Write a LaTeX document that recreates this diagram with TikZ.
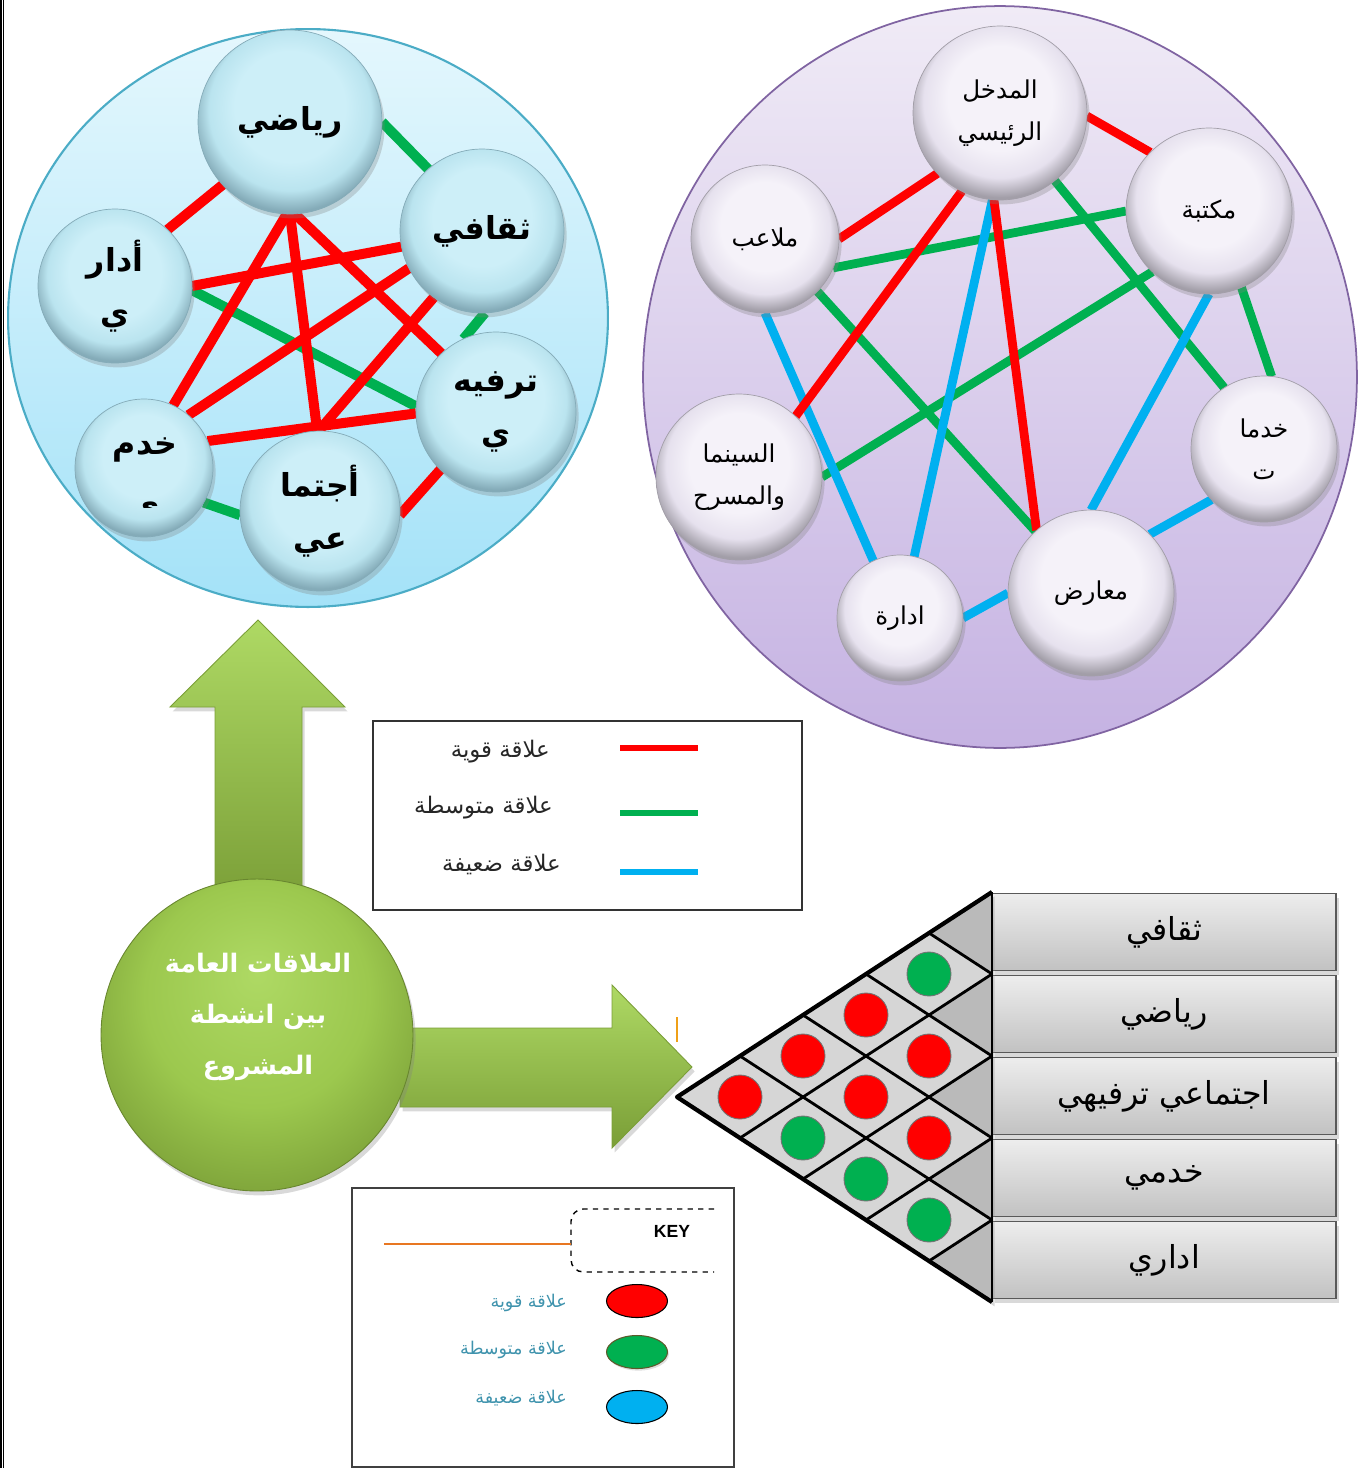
\documentclass[tikz,border=0pt]{standalone}
\usepackage{fontspec}
\usetikzlibrary{shapes.geometric,shadows}
\newfontfamily\arabicfont[Script=Arabic]{DejaVu Sans}
\newfontfamily\latinsans{Liberation Sans}
\TeXXeTstate=1
\newcommand{\AR}[1]{\beginR #1\endR}
\newcommand{\MP}[2]{({992-((#2)-(#1))*0.7683},{((#1)+(#2))/2})}
\pgfdeclarelayer{bgA}
\pgfdeclarelayer{bgB}
\pgfsetlayers{bgA,bgB,main}
\definecolor{cRed}{HTML}{FF0000}
\definecolor{cGreen}{HTML}{00B050}
\definecolor{cBlue}{HTML}{00B0F0}
\definecolor{lbTop}{HTML}{E4F7FD}
\definecolor{lbBot}{HTML}{A4E2F8}
\definecolor{lbEdge}{HTML}{4BACC6}
\definecolor{rbTop}{HTML}{F0EBF6}
\definecolor{rbBot}{HTML}{C5B2E2}
\definecolor{rbEdge}{HTML}{8064A2}
\definecolor{blIn}{HTML}{CDEFF8}
\definecolor{blMid}{HTML}{BAE4EF}
\definecolor{blOut}{HTML}{84ABB8}
\definecolor{bpIn}{HTML}{F5F2F9}
\definecolor{bpMid}{HTML}{E6E1EE}
\definecolor{bpOut}{HTML}{A29EA8}
\definecolor{gA}{HTML}{AED964}
\definecolor{gB}{HTML}{9CC84E}
\definecolor{gC}{HTML}{7A9E37}
\definecolor{keyTxt}{HTML}{3F93AD}
\definecolor{orng}{HTML}{E87722}
\pgfdeclareradialshading{bubbleL}{\pgfpoint{0bp}{6bp}}{color(0bp)=(blIn); color(15bp)=(blIn); color(22bp)=(blMid); color(27bp)=(blOut); color(50bp)=(blOut)}
\pgfdeclareradialshading{bubbleP}{\pgfpoint{0bp}{6bp}}{color(0bp)=(bpIn); color(15bp)=(bpIn); color(22bp)=(bpMid); color(27bp)=(bpOut); color(50bp)=(bpOut)}
\pgfdeclareradialshading{gball}{\pgfpoint{0bp}{10bp}}{color(0bp)=(gA); color(18bp)=(gB); color(32bp)=(gC); color(50bp)=(gC)}
\begin{document}
\begin{tikzpicture}[x=0.02cm,y=-0.02cm,
  shd/.style={drop shadow={opacity=0.3,shadow xshift=1.5pt,shadow yshift=-2.5pt}},
  lbub/.style={circle,shading=bubbleL,draw=blOut,line width=0.4pt,inner sep=0pt,outer sep=0pt,shd,align=center,
    font=\arabicfont\bfseries\fontsize{18}{30}\selectfont,text=black},
  pbub/.style={circle,shading=bubbleP,draw=bpOut,line width=0.4pt,inner sep=0pt,outer sep=0pt,shd,align=center,
    font=\arabicfont\fontsize{14}{24}\selectfont,text=black},
  ll/.style={line width=5.7pt},
  rl/.style={line width=5pt},
  rowbox/.style={rectangle,minimum width=6.88cm,minimum height=1.54cm,top color=black!7,bottom color=black!24,
    draw=black!65,line width=1.1pt,shd,font=\arabicfont\fontsize{18}{22}\selectfont},
  mcirc/.style={circle,minimum size=0.88cm,inner sep=0pt,draw=black!55,line width=0.5pt},
  gridl/.style={line width=1.6pt,black},
  legtxt/.style={anchor=east,font=\arabicfont\fontsize{13}{15}\selectfont,text=black!85},
  keytxt/.style={anchor=east,font=\arabicfont\fontsize{10}{12}\selectfont,text=keyTxt},
  keyell/.style={ellipse,minimum width=1.22cm,minimum height=0.66cm,inner sep=0pt,line width=0.6pt}
]
\useasboundingbox (0,0) rectangle (1365,1468);
% page border
\draw[line width=0.9pt] (0.8,0) -- (0.8,1468);
\draw[line width=0.9pt] (3.3,0) -- (3.3,1468);

% big ellipses
\begin{pgfonlayer}{bgA}
\node[ellipse,minimum width=12cm,minimum height=11.56cm,top color=lbTop,bottom color=lbBot,draw=lbEdge,line width=1.2pt] (lbig) at (308,318) {};
\node[ellipse,minimum width=14.28cm,minimum height=14.84cm,top color=rbTop,bottom color=rbBot,draw=rbEdge,line width=1pt] (rbig) at (1000,377) {};
\end{pgfonlayer}

% ---------- left circle nodes ----------
\node[lbub,minimum size=3.68cm] (ry) at (290,122) {\AR{رياضي}};
\node[lbub,minimum size=3.28cm] (th) at (482,231) {\AR{ثقافي}};
\node[lbub,minimum size=3.08cm] (ad) at (115,286) {\AR{أدار}\\\AR{ي}};
\node[lbub,minimum size=3.2cm] (tr) at (496,412) {\AR{ترفيه}\\\AR{ي}};
\node[lbub,minimum size=2.76cm] (kh) at (144,468) {};
\node[lbub,minimum size=3.2cm] (aj) at (320,511) {\AR{أجتما}\\\AR{عي}};
\node[font=\arabicfont\bfseries\fontsize{18}{30}\selectfont] (kht) at (145,450) {\AR{خدم}};
\begin{scope}
\clip (100,488) rectangle (190,507);
\node[anchor=base,font=\arabicfont\bfseries\fontsize{18}{30}\selectfont] (khy) at (145,516) {\AR{ي}};
\end{scope}

\begin{pgfonlayer}{bgB}
\draw[ll,cGreen] (ry.0) -- (th.131);
\draw[ll,cGreen] (ad.-3) -- (tr.176);
\draw[ll,cGreen] (th.-88.6) -- (tr.114);
\draw[ll,cGreen] (kh.-30) -- (aj.183.6);
\draw[ll,cRed] (ry.-137) -- (ad.47);
\draw[ll,cRed] (ry.-92) -- (kh.65);
\draw[ll,cRed] (ry.-90) -- (aj.92);
\draw[ll,cRed] (ry.-87) -- (tr.133.5);
\draw[ll,cRed] (ad.0) -- (th.191.6);
\draw[ll,cRed] (kh.50) -- (th.207);
\draw[ll,cRed] (kh.23.6) -- (tr.181);
\draw[ll,cRed] (aj.91) -- (th.234);
\draw[ll,cRed] (tr.226) -- (aj.-3.4);
\end{pgfonlayer}

% ---------- right circle nodes ----------
\node[pbub,minimum size=3.48cm] (md) at (1000,113) {\AR{المدخل}\\\AR{الرئيسي}};
\node[pbub,minimum size=3.32cm] (mk) at (1209,211) {\AR{مكتبة}};
\node[pbub,minimum size=2.96cm] (ml) at (765,239) {\AR{ملاعب}};
\node[pbub,minimum size=2.92cm] (kd) at (1264,449) {\AR{خدما}\\\AR{ت}};
\node[pbub,minimum size=3.32cm] (sn) at (739,477) {\AR{السينما}\\\AR{والمسرح}};
\node[pbub,minimum size=2.52cm] (id) at (900,618) {\AR{ادارة}};
\node[pbub,minimum size=3.32cm] (ma) at (1091,593) {\AR{معارض}};

\begin{pgfonlayer}{bgB}
\draw[rl,cGreen] (md.-51.6) -- (kd.123);
\draw[rl,cGreen] (ml.-23.4) -- (mk.180);
\draw[rl,cGreen] (ml.-45) -- (ma.132.6);
\draw[rl,cGreen] (mk.227.4) -- (sn.0.7);
\draw[rl,cGreen] (mk.-67.8) -- (kd.84);
\draw[rl,cBlue] (md.265) -- (id.77);
\draw[rl,cBlue] (ml.-90) -- (id.115);
\draw[rl,cBlue] (mk.-90) -- (ma.90);
\draw[rl,cBlue] (kd.224) -- (ma.45.5);
\draw[rl,cBlue] (id.0) -- (ma.180);
\draw[rl,cRed] (md.-2) -- (mk.135);
\draw[rl,cRed] (md.224) -- (ml.0);
\draw[rl,cRed] (md.244) -- (sn.47);
\draw[rl,cRed] (md.266) -- (ma.131.6);
\end{pgfonlayer}

% ---------- arrows and green circle ----------
\path[top color=gA,bottom color=gC,draw=gC,line width=0.5pt,shd]
  (258,620) -- (345,707) -- (302,707) -- (302,905) -- (215,905) -- (215,707) -- (170,707) -- cycle;
\path[top color=gA,bottom color=gC,draw=gC,line width=0.5pt,shd]
  (400,1028) -- (612,1028) -- (612,985) -- (692,1067) -- (612,1148) -- (612,1107) -- (400,1107) -- cycle;
\node[circle,shading=gball,draw=gC!85!black,line width=0.5pt,minimum size=6.24cm,inner sep=0pt,shd] (gc) at (257,1035) {};
\node[align=center,text=white,font=\arabicfont\bfseries\fontsize{14.5}{29}\selectfont] (gct) at (258,1017)
  {\AR{العلاقات العامة}\\\AR{بين انشطة}\\\AR{المشروع}};
\draw[color=orng!70!yellow,line width=0.8pt] (677,1017) -- (677,1042);

% ---------- legend 1 ----------
\node[draw=black!80,line width=0.7pt,rectangle,minimum width=8.58cm,minimum height=3.78cm,inner sep=0pt] (leg) at (587.5,815.5) {};
\node[legtxt] (lt1) at (556,752) {\AR{علاقة قوية}};
\node[legtxt] (lt2) at (559,808) {\AR{علاقة متوسطة}};
\node[legtxt] (lt3) at (567,864) {\AR{علاقة ضعيفة}};
\draw[cRed,line width=3.4pt] (620,748) -- (698,748);
\draw[cGreen,line width=3.4pt] (620,813) -- (698,813);
\draw[cBlue,line width=3.4pt] (620,872) -- (698,872);

% ---------- matrix ----------
\node[rowbox] (r1) at (1164,932) {\AR{ثقافي}};
\node[rowbox] (r2) at (1164,1014) {\AR{رياضي}};
\node[rowbox] (r3) at (1164,1096) {\AR{اجتماعي ترفيهي}};
\node[rowbox] (r4) at (1164,1178) {\AR{خدمي}};
\node[rowbox] (r5) at (1164,1260) {\AR{اداري}};
\fill[black!16,shd] \MP{892}{892} -- \MP{892}{1302} -- \MP{1302}{1302} -- cycle;
\foreach \a/\b in {892/974,974/1056,1056/1138,1138/1220,1220/1302}
  \fill[black!27] \MP{\a}{\a} -- \MP{\b}{\b} -- \MP{\a}{\b} -- cycle;
\foreach \b in {974,1056,1138,1220}{
  \draw[gridl] \MP{\b}{\b} -- \MP{\b}{1302};
  \draw[gridl] \MP{\b}{\b} -- \MP{892}{\b};
}
\draw[line width=2.4pt,line join=round] \MP{892}{892} -- \MP{892}{1302} -- \MP{1302}{1302};
\draw[line width=1.6pt] \MP{892}{892} -- \MP{1302}{1302};
\node[mcirc,fill=cGreen] (m12) at \MP{933}{1015} {};
\node[mcirc,fill=cRed] (m13) at \MP{933}{1097} {};
\node[mcirc,fill=cRed] (m23) at \MP{1015}{1097} {};
\node[mcirc,fill=cRed] (m14) at \MP{933}{1179} {};
\node[mcirc,fill=cRed] (m24) at \MP{1015}{1179} {};
\node[mcirc,fill=cRed] (m34) at \MP{1097}{1179} {};
\node[mcirc,fill=cRed] (m15) at \MP{933}{1261} {};
\node[mcirc,fill=cGreen] (m25) at \MP{1015}{1261} {};
\node[mcirc,fill=cGreen] (m35) at \MP{1097}{1261} {};
\node[mcirc,fill=cGreen] (m45) at \MP{1179}{1261} {};

% ---------- key box ----------
\node[draw=black!75,line width=0.8pt,rectangle,minimum width=7.64cm,minimum height=5.58cm,inner sep=0pt] (keybox) at (543,1327.5) {};
\draw[dashed,line width=0.8pt,rounded corners=7pt] (714,1209) -- (571,1209) -- (571,1272) -- (714,1272);
\coordinate (keyl) at (571,1244);
\coordinate (orgs) at (384,1244);
\draw[orng,line width=1.6pt] (orgs) -- (keyl);
\node[font=\latinsans\bfseries\fontsize{10}{12}\selectfont] (keyw) at (672,1231) {KEY};
\node[keyell,fill=cRed,draw=black] (k1) at (637,1301) {};
\node[keyell,fill=cGreen,draw=black!45!olive,drop shadow={opacity=0.25,shadow xshift=0.8pt,shadow yshift=-1.2pt}] (k2) at (637,1352) {};
\node[keyell,fill=cBlue,draw=black] (k3) at (637,1407) {};
\node[keytxt] (kt1) at (573,1303) {\AR{علاقة قوية}};
\node[keytxt] (kt2) at (573,1350) {\AR{علاقة متوسطة}};
\node[keytxt] (kt3) at (573,1398) {\AR{علاقة ضعيفة}};
\end{tikzpicture}
\end{document}
